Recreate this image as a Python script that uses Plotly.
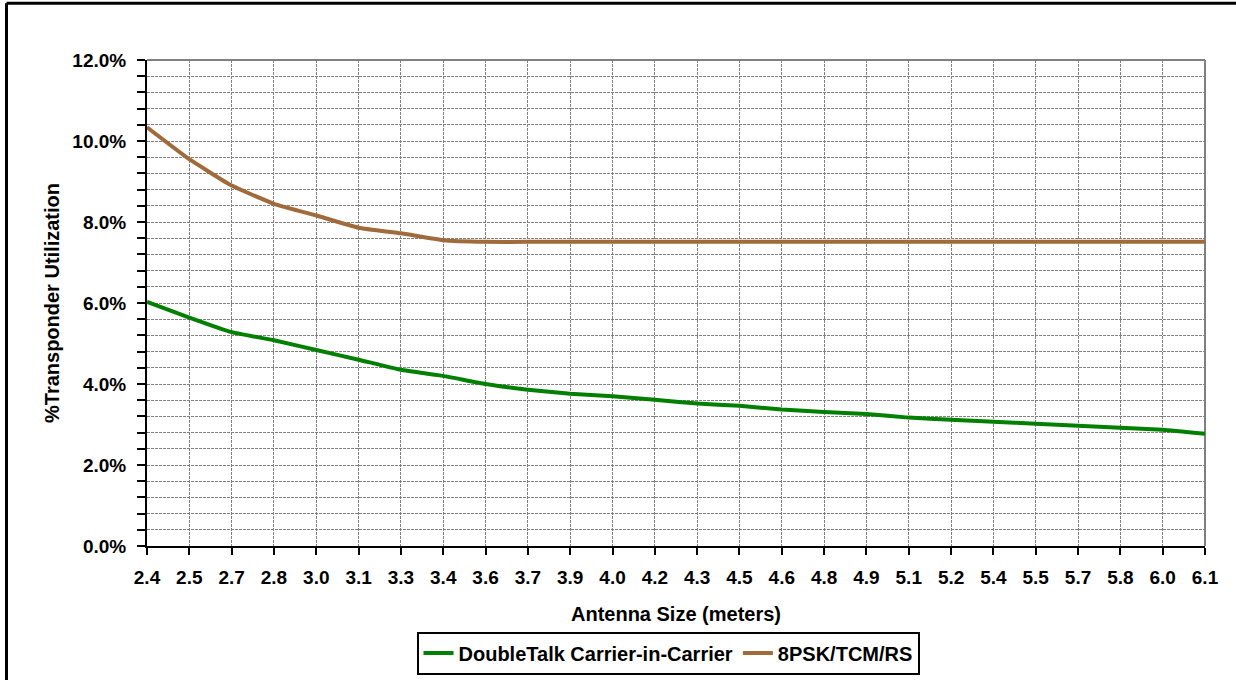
import plotly.graph_objects as go

antenna_sizes = ["2.4", "2.5", "2.7", "2.8", "3.0", "3.1", "3.3", "3.4", "3.6", "3.7",
                 "3.9", "4.0", "4.2", "4.3", "4.5", "4.6", "4.8", "4.9", "5.1", "5.2",
                 "5.4", "5.5", "5.7", "5.8", "6.0", "6.1"]

doubletalk_cnc = [0.0603, 0.0564, 0.0528, 0.0508, 0.0484, 0.0460, 0.0435, 0.0420, 0.0400, 0.0386,
                  0.0376, 0.0370, 0.0361, 0.0352, 0.0346, 0.0337, 0.0331, 0.0326, 0.0317, 0.0312,
                  0.0307, 0.0302, 0.0297, 0.0292, 0.0287, 0.0277]

psk8_tcm_rs = [0.1034, 0.0955, 0.0890, 0.0845, 0.0816, 0.0786, 0.0772, 0.0755, 0.0751, 0.0751,
               0.0751, 0.0751, 0.0751, 0.0751, 0.0751, 0.0751, 0.0751, 0.0751, 0.0751, 0.0751,
               0.0751, 0.0751, 0.0751, 0.0751, 0.0751, 0.0751]

series_names = ["DoubleTalk Carrier-in-Carrier", "8PSK/TCM/RS"]

FONT = "Liberation Sans, Arial, sans-serif"
GREEN = "#008000"
BROWN = "#A06A3A"
GRID = "#808080"
DASH = "3px,1px"

fig = go.Figure()
fig.add_trace(go.Scatter(x=antenna_sizes, y=doubletalk_cnc, mode="lines", name=series_names[0],
                         line=dict(color=GREEN, width=4, shape="spline", smoothing=0.4)))
fig.add_trace(go.Scatter(x=antenna_sizes, y=psk8_tcm_rs, mode="lines", name=series_names[1],
                         line=dict(color=BROWN, width=4, shape="spline", smoothing=0.4)))

L, R, T, B = 147, 31, 60, 134
W, H = 1236, 680
pw, ph = W - L - R, H - T - B

def px_x(p):
    return (p - L) / pw

def px_y(p):
    return (H - B - p) / ph

fig.update_layout(
    width=W, height=H,
    margin=dict(l=L, r=R, t=T, b=B, autoexpand=False),
    paper_bgcolor="white", plot_bgcolor="white",
    font=dict(family=FONT, size=19, color="black"),
    showlegend=True,
    legend=dict(orientation="h", x=px_x(668), xanchor="center", y=px_y(653), yanchor="middle",
                bordercolor="black", borderwidth=2,
                font=dict(family=FONT, size=20, color="black", weight="bold"),
                itemwidth=30, tracegroupgap=0),
    xaxis=dict(
        type="category", range=[0, len(antenna_sizes) - 1], automargin=False,
        showline=True, linecolor="black", linewidth=2,
        ticks="outside", ticklen=7, tickwidth=2, tickcolor="black",
        tickfont=dict(family=FONT, size=19, weight="bold"), ticklabelstandoff=6,
        showgrid=True, gridcolor=GRID, gridwidth=1, griddash=DASH,
        zeroline=False,
        title=dict(text="<b>Antenna Size (meters)</b>", font=dict(family=FONT, size=20), standoff=20),
    ),
    yaxis=dict(
        range=[0, 0.12], dtick=0.02, tick0=0, tickformat=".1%", automargin=False,
        showline=True, linecolor="black", linewidth=2,
        ticks="outside", ticklen=8, tickwidth=2, tickcolor="black",
        tickfont=dict(family=FONT, size=19, weight="bold"), ticklabelstandoff=7,
        showgrid=True, gridcolor=GRID, gridwidth=1, griddash=DASH,
        zeroline=False,
        minor=dict(dtick=0.004, tick0=0, ticks="outside", ticklen=8, tickwidth=2, tickcolor="black",
                   showgrid=True, gridcolor=GRID, gridwidth=1, griddash=DASH),
        title=dict(text="<b>%Transponder Utilization</b>", font=dict(family=FONT, size=20), standoff=7),
    ),
    shapes=[
        dict(type="line", xref="paper", yref="paper", x0=0, x1=1, y0=1, y1=1,
             line=dict(color="#808080", width=2), layer="between"),
        dict(type="line", xref="paper", yref="paper", x0=1, x1=1, y0=0, y1=1,
             line=dict(color="#808080", width=2), layer="between"),
        # outer chart border (only top and left edges fall inside the picture)
        dict(type="line", xref="paper", yref="paper",
             x0=px_x(6.5), x1=px_x(W), y0=px_y(3.2), y1=px_y(3.2),
             line=dict(color="black", width=3), layer="above"),
        dict(type="line", xref="paper", yref="paper",
             x0=px_x(6.5), x1=px_x(6.5), y0=px_y(3.2), y1=px_y(H),
             line=dict(color="black", width=3), layer="above"),
    ],
)

fig.write_html("out.html", config={"displayModeBar": False},
               post_script="document.body.style.margin='0';")
